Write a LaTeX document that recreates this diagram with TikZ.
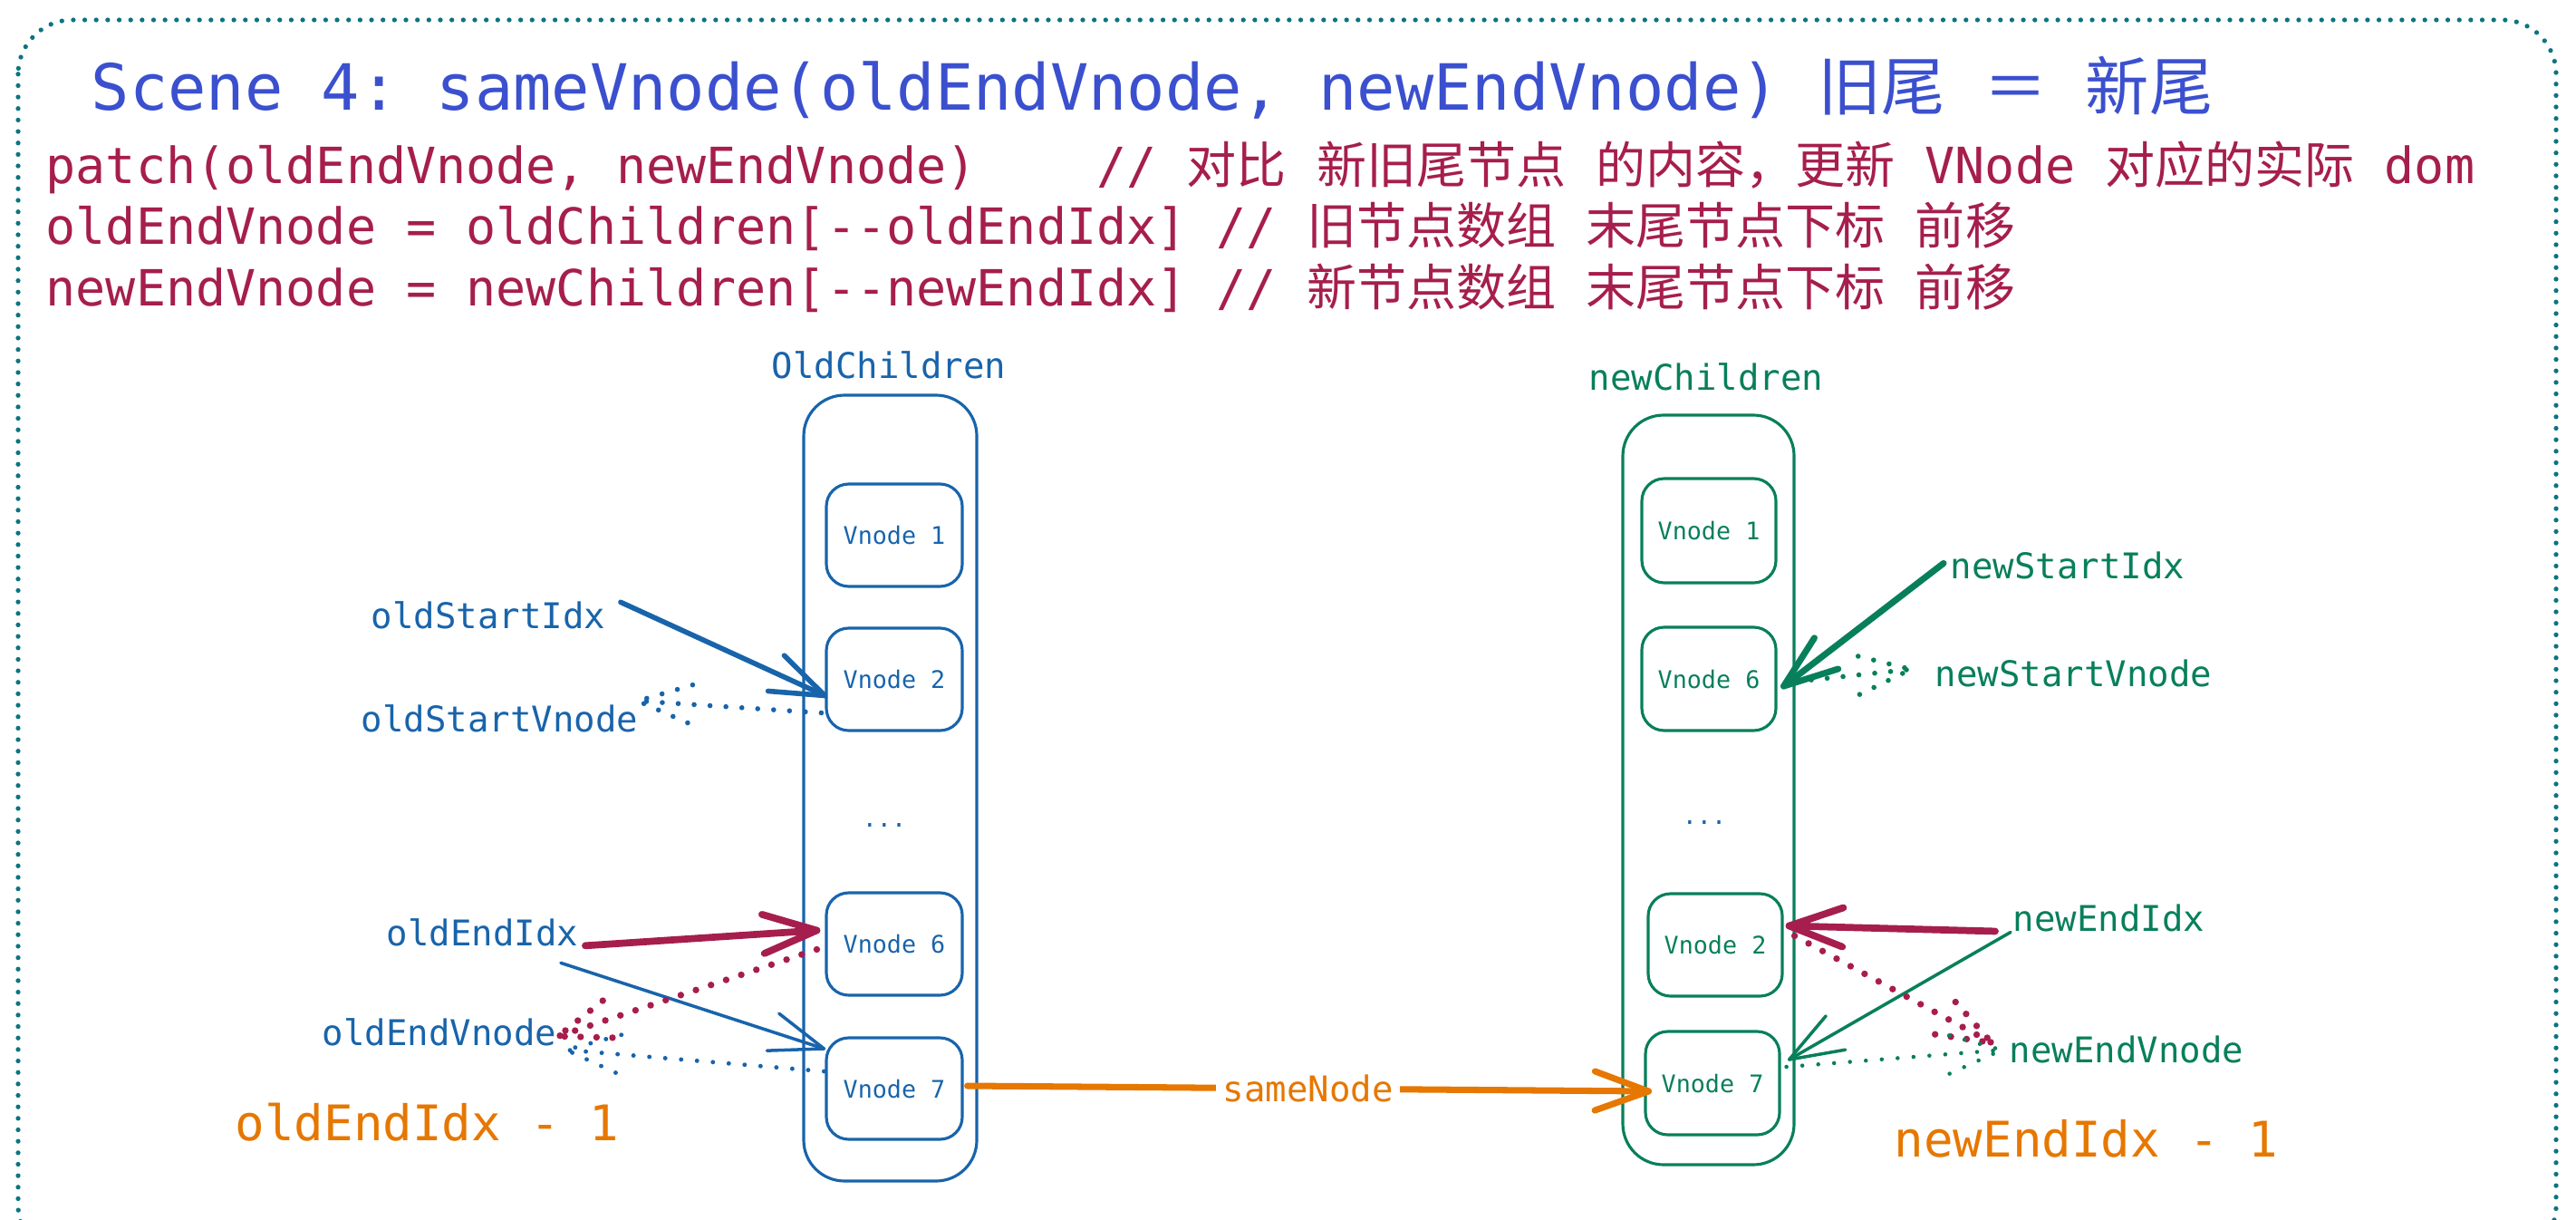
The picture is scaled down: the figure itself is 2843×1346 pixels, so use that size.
\documentclass[tikz,border=0pt]{standalone}
\usepackage{fontspec}
\setmonofont{DejaVu Sans Mono}
\newfontfamily\cjk{Noto Sans CJK SC}
\usetikzlibrary{calc,fit}
\definecolor{titleblue}{HTML}{3B50CE}
\definecolor{crim}{HTML}{A61E4D}
\definecolor{lblue}{HTML}{1864AB}
\definecolor{lgreen}{HTML}{087F5B}
\definecolor{orng}{HTML}{E67700}
\definecolor{bordc}{HTML}{0C7480}
\newcommand\fs[1]{\fontsize{#1}{#1}\selectfont}
\newcommand\conn[3][]{\draw[#1] (#2) -- (#3);
  \draw[#1] ($(#3)!0.63cm!20:(#2)$) -- (#3) -- ($(#3)!0.63cm!-20:(#2)$);}
\begin{document}
\begin{tikzpicture}[x=0.01cm,y=-0.01cm,
  txt/.style={inner sep=0pt, anchor=base west},
  code/.style={txt, text=crim, font=\ttfamily\fs{15.65pt}},
  lbl/.style={txt, font=\ttfamily\fs{11.1pt}},
  big/.style={txt, font=\ttfamily\fs{15.4pt}, text=orng},
  cont/.style={draw, line width=0.9pt, rounded corners=12.8pt, inner sep=0pt},
  vbox/.style={draw, line width=0.9pt, rounded corners=7pt, inner sep=0pt},
  vtxt/.style={inner sep=0pt, anchor=base, font=\ttfamily\fs{7.6pt}},
  solidarr/.style={line width=#1, line cap=round, line join=round},
  dotarr/.style={line width=#1, dash pattern=on 0pt off 5pt, line cap=round},
]
\useasboundingbox (0,0) rectangle (2843,1346);
\begin{scope}
\clip (0,0) rectangle (2843,1346);
\draw[bordc, line width=1.5pt, dash pattern=on 0pt off 3.6pt, line cap=round, rounded corners=17pt] (20,22) rectangle (2821,1390);
\end{scope}

% header text
\node[txt, font=\ttfamily\fs{20pt}, text=titleblue] (title) at (100,122)
  {Scene 4: sameVnode(oldEndVnode, newEndVnode) {\cjk 旧尾} {\cjk ＝} {\cjk 新尾}};
\node[code] (l1) at (50,203) {patch(oldEndVnode, newEndVnode)\ \ \ \ // {\cjk 对比} {\cjk 新旧尾节点} {\cjk 的内容，更新} VNode {\cjk 对应的实际} dom};
\node[code] (l2) at (50,270) {oldEndVnode = oldChildren[-{}-oldEndIdx] // {\cjk 旧节点数组} {\cjk 末尾节点下标} {\cjk 前移}};
\node[code] (l3) at (50,338) {newEndVnode = newChildren[-{}-newEndIdx] // {\cjk 新节点数组} {\cjk 末尾节点下标} {\cjk 前移}};

% column labels
\node[lbl, text=lblue] (oldlab) at (851,417) {OldChildren};
\node[lbl, text=lgreen] (newlab) at (1753,430) {newChildren};

% containers
\node[cont, lblue, fit={(887,436) (1078,1303)}] (oldc) {};
\node[cont, lgreen, fit={(1791,458) (1980,1285)}] (newc) {};

% vnodes old
\node[vbox, lblue, fit={(912,534) (1062,647)}] (ov1) {};
\node[vbox, lblue, fit={(912,693) (1062,806)}] (ov2) {};
\node[vbox, lblue, fit={(912,985) (1062,1098)}] (ov6) {};
\node[vbox, lblue, fit={(912,1145) (1062,1257)}] (ov7) {};
\node[vtxt, text=lblue] (ov1t) at ($(ov1.center)+(0,10)$) {Vnode 1};
\node[vtxt, text=lblue] (ov2t) at ($(ov2.center)+(0,10)$) {Vnode 2};
\node[vtxt, text=lblue] (ov6t) at ($(ov6.center)+(0,10)$) {Vnode 6};
\node[vtxt, text=lblue] (ov7t) at ($(ov7.center)+(0,10)$) {Vnode 7};
\node[vtxt, text=lblue] (odots) at (976,912) {...};

% vnodes new
\node[vbox, lgreen, fit={(1812,528) (1960,643)}] (nv1) {};
\node[vbox, lgreen, fit={(1812,692) (1960,806)}] (nv6) {};
\node[vbox, lgreen, fit={(1819,986) (1967,1099)}] (nv2) {};
\node[vbox, lgreen, fit={(1816,1138) (1964,1252)}] (nv7) {};
\node[vtxt, text=lgreen] (nv1t) at ($(nv1.center)+(0,10)$) {Vnode 1};
\node[vtxt, text=lgreen] (nv6t) at ($(nv6.center)+(0,10)$) {Vnode 6};
\node[vtxt, text=lgreen] (nv2t) at ($(nv2.center)+(0,10)$) {Vnode 2};
\node[vtxt, text=lgreen] (nv7t) at ($(nv7.center)+(0,10)$) {Vnode 7};
\node[vtxt, text=lblue] (ndots) at (1881,909) {...};

% pointer labels
\node[lbl, text=lblue] (osi) at (409,693) {oldStartIdx};
\node[lbl, text=lblue] (osv) at (398,807) {oldStartVnode};
\node[lbl, text=lblue] (oei) at (426,1043) {oldEndIdx};
\node[lbl, text=lblue] (oev) at (355,1153) {oldEndVnode};
\node[big] (oem) at (259,1258) {oldEndIdx - 1};
\node[lbl, text=lgreen] (nsi) at (2152,638) {newStartIdx};
\node[lbl, text=lgreen] (nsv) at (2135,757) {newStartVnode};
\node[lbl, text=lgreen] (nei) at (2221,1027) {newEndIdx};
\node[lbl, text=lgreen] (nev) at (2217,1172) {newEndVnode};
\node[big] (nem) at (2090,1276) {newEndIdx - 1};

% connector end points
\coordinate (a1s) at ($(osi.east)+(16,-14)$);  \coordinate (a1e) at ($(ov2.west)+(0,18)$);
\coordinate (a2s) at ($(ov2.west)+(-4,37)$);   \coordinate (a2e) at ($(osv.east)+(-1,-19)$);
\coordinate (a3s) at ($(oei.east)+(7,15)$);    \coordinate (a3e) at ($(ov6.west)+(-9,-15)$);
\coordinate (a4s) at ($(oei.east)+(-20,34)$);  \coordinate (a4e) at ($(ov7.west)+(-1,-44)$);
\coordinate (a5s) at ($(ov6.west)+(-9,6)$);    \coordinate (a5e) at ($(oev.east)+(1,5)$);
\coordinate (a6s) at ($(ov7.west)+(-1,-19)$);  \coordinate (a6e) at ($(oev.east)+(10,20)$);
\coordinate (a7s) at ($(ov7.east)+(4,-3)$);    \coordinate (a7e) at ($(nv7.west)+(5,9)$);
\coordinate (a8s) at ($(nsi.west)+(-7,-2)$);   \coordinate (a8e) at ($(nv6.east)+(7,8)$);
\coordinate (a9s) at ($(nv6.east)+(20,3)$);    \coordinate (a9e) at ($(nsv.west)+(-26,-4)$);
\coordinate (a10s) at ($(nei.west)+(-19,15)$); \coordinate (a10e) at ($(nv2.east)+(6,-21)$);
\coordinate (a11s) at ($(nei.west)+(-2,16)$);  \coordinate (a11e) at ($(nv7.east)+(9,-26)$);
\coordinate (a12s) at ($(nv2.east)+(12,-10)$); \coordinate (a12e) at ($(nev.west)+(-19,-7)$);
\coordinate (a13s) at ($(nv7.east)+(6,-18)$);  \coordinate (a13e) at ($(nev.west)+(-8,1)$);

% connectors
\conn[lblue, solidarr=1.6pt]{a1s}{a1e}
\conn[lblue, dotarr=1.6pt]{a2s}{a2e}
\conn[crim, solidarr=2.2pt]{a3s}{a3e}
\conn[lblue, solidarr=1pt]{a4s}{a4e}
\conn[crim, dotarr=2.1pt]{a5s}{a5e}
\conn[lblue, dotarr=1.4pt]{a6s}{a6e}
\conn[lgreen, solidarr=2pt]{a8s}{a8e}
\conn[lgreen, dotarr=1.6pt]{a9s}{a9e}
\conn[crim, solidarr=2.2pt]{a10s}{a10e}
\conn[lgreen, solidarr=1pt]{a11s}{a11e}
\conn[crim, dotarr=2.1pt]{a12s}{a12e}
\conn[lgreen, dotarr=1.3pt]{a13s}{a13e}
\draw[orng, solidarr=2pt] (a7s) -- node[fill=white, inner sep=2pt, font=\ttfamily\fs{11.1pt}, text=orng] (samelab) {sameNode} (a7e);
\draw[orng, solidarr=2pt] ($(a7e)!0.63cm!20:(a7s)$) -- (a7e) -- ($(a7e)!0.63cm!-20:(a7s)$);
\end{tikzpicture}
\end{document}
